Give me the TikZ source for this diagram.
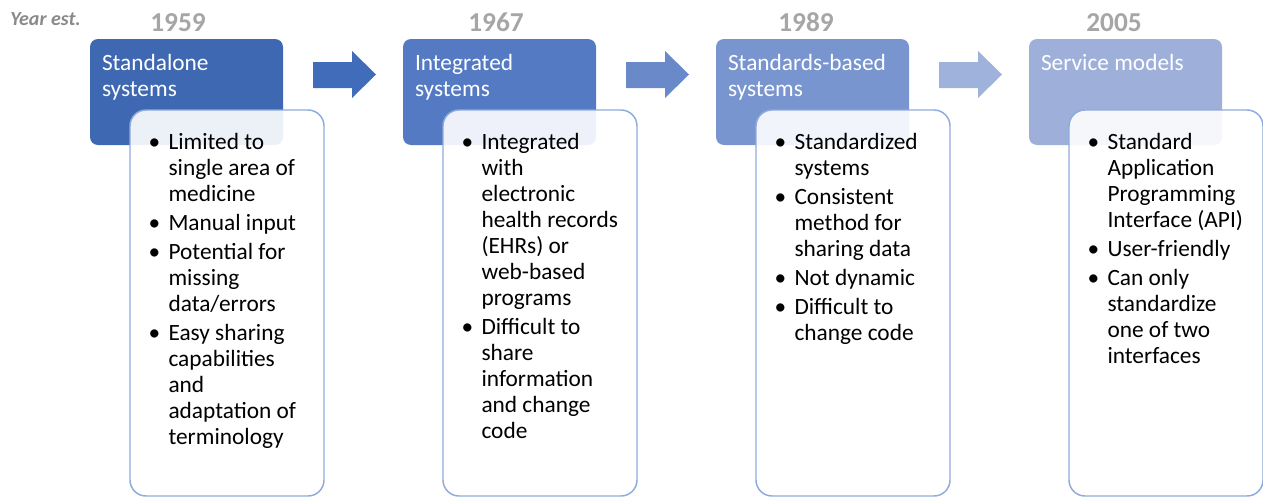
\documentclass[tikz,border=0pt]{standalone}
\usepackage{fontspec}
\setmainfont{Carlito}
\usetikzlibrary{calc}
\definecolor{colA}{RGB}{62,104,178}
\definecolor{colB}{RGB}{84,122,196}
\definecolor{colC}{RGB}{120,149,207}
\definecolor{colD}{RGB}{158,176,218}
\definecolor{arA}{RGB}{64,108,186}
\definecolor{arB}{RGB}{106,137,201}
\definecolor{arC}{RGB}{158,178,220}
\definecolor{ptline}{RGB}{143,170,220}
\definecolor{yrgray}{RGB}{166,166,166}
\definecolor{estgray}{RGB}{138,138,138}
\newcommand{\bul}{\makebox[15pt][l]{\textbullet}}

\begin{document}
\begin{tikzpicture}[x=0.75pt,y=-0.75pt,
	hd/.style={rectangle,rounded corners=6pt,minimum width=144.75pt,minimum height=79.5pt,inner sep=0pt},
	hdtxt/.style={inner sep=0pt,text=white,font=\fontsize{17.5}{19.5}\selectfont},
	pt/.style={rectangle,rounded corners=12pt,draw=ptline,line width=1.1pt,fill=white,fill opacity=0.9,minimum width=145.5pt,minimum height=289.5pt,inner sep=0pt},
	pttxt/.style={inner sep=0pt,font=\fontsize{17.5}{19.5}\selectfont},
	yr/.style={inner sep=0pt,text=yrgray,font=\fontsize{20.5}{22}\selectfont\bfseries}]
		\useasboundingbox (0,0) rectangle (1263,500);
		\node[inner sep=0pt,anchor=base west,text=estgray,font=\fontsize{15}{17}\selectfont\bfseries\itshape] (est) at (10,25) {Year est.};
		\node[yr,anchor=base] (yrA) at (178,31) {1959};
		\node[yr,anchor=base] (yrB) at (496,31) {1967};
		\node[yr,anchor=base] (yrC) at (806,31) {1989};
		\node[yr,anchor=base] (yrD) at (1114,31) {2005};
		\node[hd,fill=colA] (hdA) at (186.5,92) {};
		\node[hd,fill=colB] (hdB) at (499.5,92) {};
		\node[hd,fill=colC] (hdC) at (812.5,92) {};
		\node[hd,fill=colD] (hdD) at (1125.5,92) {};
		\foreach \dx/\col in {0/arA,313/arB,626/arC}
			\fill[\col] (313+\dx,62)--(352+\dx,62)--(352+\dx,51)--(376+\dx,74.5)--(352+\dx,98)--(352+\dx,88)--(313+\dx,88)--cycle;
		\node[hdtxt,anchor=base west] (hdAt) at ($(hdA.north west)+(12,32)$) {\begin{tabular}[t]{@{}l@{}}Standalone\\systems\end{tabular}};
		\node[hdtxt,anchor=base west] (hdBt) at ($(hdB.north west)+(12,32)$) {\begin{tabular}[t]{@{}l@{}}Integrated\\systems\end{tabular}};
		\node[hdtxt,anchor=base west] (hdCt) at ($(hdC.north west)+(12,32)$) {\begin{tabular}[t]{@{}l@{}}Standards-based\\systems\end{tabular}};
		\node[hdtxt,anchor=base west] (hdDt) at ($(hdD.north west)+(12,32)$) {\begin{tabular}[t]{@{}l@{}}Service models\end{tabular}};
		\node[pt] (ptA) at (227,303) {};
		\node[pt] (ptB) at (540,303) {};
		\node[pt] (ptC) at (853,303) {};
		\node[pt] (ptD) at (1166,303) {};
		\node[pttxt,anchor=base west] (ptAt) at ($(ptA.north west)+(19,40)$) {\begin{tabular}[t]{@{}l@{}l@{}}
			\bul & Limited to\\ & single area of\\ & medicine\\[2.25pt]
			\bul & Manual input\\[2.25pt]
			\bul & Potential for\\ & missing\\ & data/errors\\[2.25pt]
			\bul & Easy sharing\\ & capabilities\\ & and\\ & adaptation of\\ & terminology
		\end{tabular}};
		\node[pttxt,anchor=base west] (ptBt) at ($(ptB.north west)+(19,40)$) {\begin{tabular}[t]{@{}l@{}l@{}}
			\bul & Integrated\\ & with\\ & electronic\\ & health records\\ & (EHRs) or\\ & web-based\\ & programs\\[2.25pt]
			\bul & Difficult to\\ & share\\ & information\\ & and change\\ & code
		\end{tabular}};
		\node[pttxt,anchor=base west] (ptCt) at ($(ptC.north west)+(19,40)$) {\begin{tabular}[t]{@{}l@{}l@{}}
			\bul & Standardized\\ & systems\\[2.25pt]
			\bul & Consistent\\ & method for\\ & sharing data\\[2.25pt]
			\bul & Not dynamic\\[2.25pt]
			\bul & Difficult to\\ & change code
		\end{tabular}};
		\node[pttxt,anchor=base west] (ptDt) at ($(ptD.north west)+(19,40)$) {\begin{tabular}[t]{@{}l@{}l@{}}
			\bul & Standard\\ & Application\\ & Programming\\ & Interface (API)\\[2.25pt]
			\bul & User-friendly\\[2.25pt]
			\bul & Can only\\ & standardize\\ & one of two\\ & interfaces
		\end{tabular}};
	\end{tikzpicture}
\end{document}
